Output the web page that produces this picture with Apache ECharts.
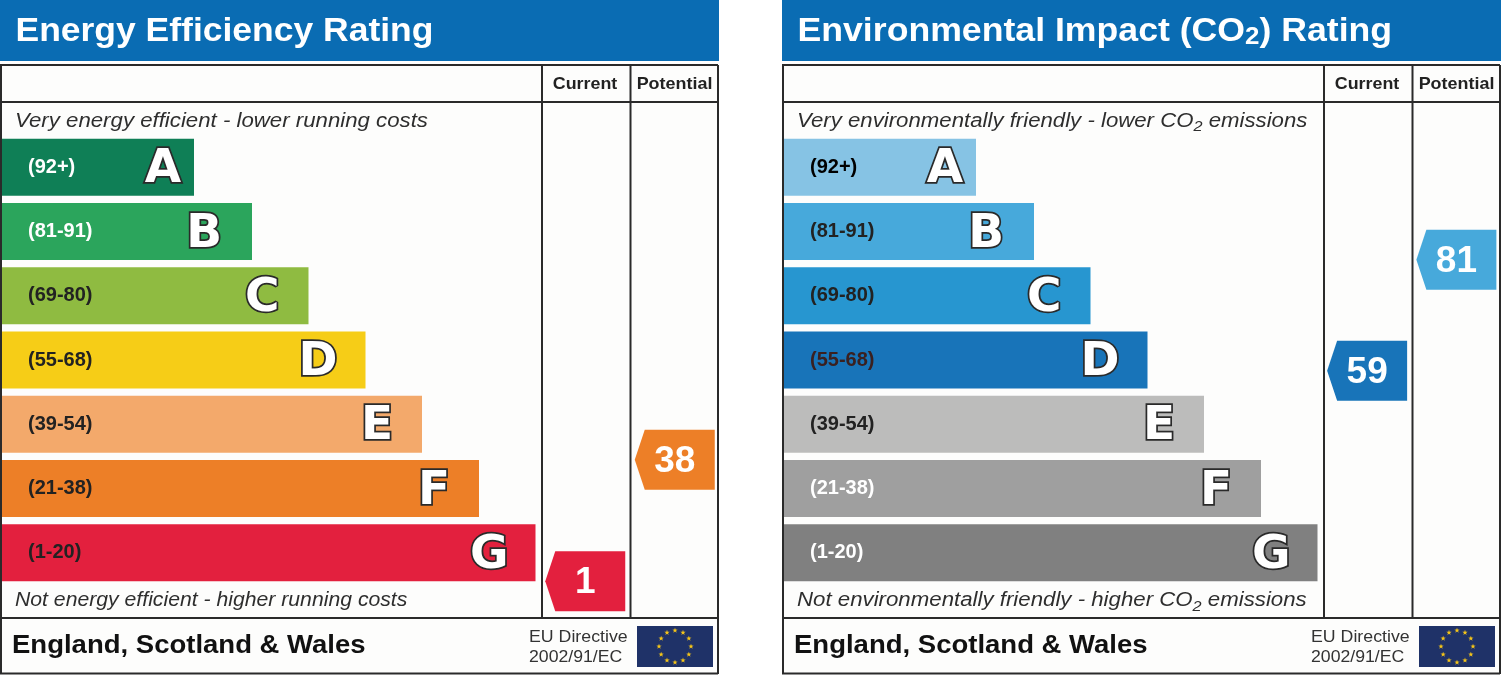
<!DOCTYPE html>
<html><head><meta charset="utf-8">
<style>html,body{margin:0;padding:0;background:#fff}#c{width:1501px;height:675px}</style>
<script src="https://cdn.jsdelivr.net/npm/echarts@6/dist/echarts.min.js"></script></head>
<body><div id="c"></div>
<script>
const bandLetters = ['A','B','C','D','E','F','G'];
const bandRanges = ['(92+)','(81-91)','(69-80)','(55-68)','(39-54)','(21-38)','(1-20)'];
const bandLow = [92,81,69,55,39,21,1];
const bandHigh = [100,91,80,68,54,38,20];
const barLengths = [192,250,306.5,363.5,420,477,533.5];
const letterInsets = [13,30,29,28,29,29,27];
const energyColors = ['#0f7f56','#2ba55c','#8fbb41','#f6cd17','#f3a96b','#ed7f27','#e3203e'];
const co2Colors = ['#86c3e4','#47a9db','#2796d0','#1874b9','#bcbcbb','#9f9f9f','#808080'];
const energyLabelColors = ['#fff','#fff','#222','#222','#222','#222','#222'];
const co2LabelColors = ['#000','#222','#222','#3a2020','#222','#fff','#fff'];
const energyScores = [1,38];
const co2Scores = [59,81];
const columnNames = ['Current','Potential'];

function bandOf(s){return bandLow.findIndex((l,i)=>s>=l&&s<=bandHigh[i]);}
function rowPos(s){const b=bandOf(s);return b+0.05+0.89*(bandHigh[b]-s)/(bandHigh[b]-bandLow[b]);}

const grids=[],xAxes=[],yAxes=[],series=[],graphics=[];
const frame='#2a2a2a', ink='#2e2e2e';
function line(x1,y1,x2,y2,w){graphics.push({type:'line',z:1,shape:{x1,y1,x2,y2},style:{stroke:frame,lineWidth:w||2}});}
function text(x,y,t,font,fill,scale,align){graphics.push({type:'text',z:3,x,y,scaleX:scale||1,originX:0,style:{text:t,font,fill,textAlign:align||'left',textVerticalAlign:'middle'}});}
function subText(x,y,t,font,subFont,fill,scale,subPad){graphics.push({type:'text',z:3,x,y,scaleX:scale||1,originX:0,
  style:{text:t,font,fill,textVerticalAlign:'middle',rich:{s:{font:subFont,fill,verticalAlign:'bottom',padding:[subPad,0,0,0]}}}});}

function panel(ox,titleParts,titleScale,topText,topScale,bottomText,bottomScale,colors,labelColors,scores){
  const gi=grids.length;
  graphics.push({type:'rect',z:1,shape:{x:ox,y:0,width:719,height:61},style:{fill:'#0a6cb3'}});
  graphics.push({type:'rect',z:0,shape:{x:ox,y:65,width:718,height:608},style:{fill:'#fdfdfc'}});
  subText(ox+15.5,32,titleParts,'bold 33px "Liberation Sans"','bold 24px "Liberation Sans"','#fff',titleScale,11);
  line(ox,65,ox+718,65); line(ox,102,ox+718,102); line(ox,618,ox+718,618); line(ox,673.5,ox+718,673.5);
  line(ox+1,65,ox+1,674); line(ox+718,65,ox+718,674);
  line(ox+542,65,ox+542,618); line(ox+630.5,65,ox+630.5,618);
  text(ox+585,84,columnNames[0],'bold 17px "Liberation Sans"','#222',1.05,'center');
  text(ox+674.5,84,columnNames[1],'bold 17px "Liberation Sans"','#222',1.055,'center');
  subText(ox+15,121,topText,'italic 20.5px "Liberation Sans"','italic 15px "Liberation Sans"',ink,topScale,12);
  subText(ox+15,600.5,bottomText,'italic 20.5px "Liberation Sans"','italic 15px "Liberation Sans"',ink,bottomScale,12);
  text(ox+12,646,'England, Scotland & Wales','bold 26.5px "Liberation Sans"','#111',1.038);
  text(ox+529,637,'EU Directive','16.5px "Liberation Sans"','#333',1.076);
  text(ox+529,657.5,'2002/91/EC','16.5px "Liberation Sans"','#333',1.07);
  graphics.push({type:'rect',z:2,shape:{x:ox+637,y:626,width:76,height:41},style:{fill:'#1f3268'}});
  for(let i=0;i<12;i++){
    const a=i*Math.PI/6, cx=ox+675+16*Math.sin(a), cy=646.5-16*Math.cos(a), pts=[];
    for(let k=0;k<10;k++){const r=k%2?1.1:2.8,b=k*Math.PI/5;pts.push([cx+r*Math.sin(b),cy-r*Math.cos(b)]);}
    graphics.push({type:'polygon',z:3,shape:{points:pts},style:{fill:'#f5c518'}});
  }
  grids.push({left:ox+2,top:135,width:540,height:450},{left:ox+540.5,top:135,width:179,height:450});
  xAxes.push({gridIndex:gi,type:'value',min:0,max:540,show:false},
             {gridIndex:gi+1,type:'category',data:columnNames,show:false});
  yAxes.push({gridIndex:gi,type:'category',inverse:true,data:bandRanges,z:5,
      axisLine:{show:false},axisTick:{show:false},splitLine:{show:false},
      axisLabel:{inside:true,margin:26,fontFamily:'Liberation Sans',fontWeight:'bold',fontSize:20,
        color:(v,i)=>labelColors[i]}},
    {gridIndex:gi+1,type:'value',inverse:true,min:0,max:7,show:false,splitLine:{show:false}});
  series.push({type:'bar',xAxisIndex:gi,yAxisIndex:gi,barWidth:57,silent:true,
    data:barLengths.map((v,i)=>({value:v,itemStyle:{color:colors[i]},
      label:{show:true,position:'insideRight',distance:letterInsets[i],offset:[0,3],formatter:bandLetters[i],
        color:'#fff',fontFamily:'DejaVu Sans',fontWeight:'bold',fontSize:47,
        textBorderColor:'#2a2a2a',textBorderWidth:3.5}}))});
  series.push({type:'scatter',xAxisIndex:gi+1,yAxisIndex:gi+1,silent:true,
    symbol:'path://M10 0H80V60H10L0 30Z',symbolSize:[80,60],
    data:scores.map((s,i)=>({value:[i,rowPos(s)],itemStyle:{color:colors[bandOf(s)],opacity:1},
      label:{show:true,position:'inside',offset:[0,2],formatter:String(s),color:'#fff',fontFamily:'Liberation Sans',fontWeight:'bold',fontSize:37}}))});
}
panel(0,'Energy Efficiency Rating',1.075,'Very energy efficient - lower running costs',1.084,'Not energy efficient - higher running costs',1.034,energyColors,energyLabelColors,energyScores);
panel(782,'Environmental Impact (CO{s|2}) Rating',1.08,'Very environmentally friendly - lower CO{s|2} emissions',1.083,'Not environmentally friendly - higher CO{s|2} emissions',1.085,co2Colors,co2LabelColors,co2Scores);

const chart=echarts.init(document.getElementById('c'));
chart.setOption({animation:false,backgroundColor:'#fff',graphic:{elements:graphics},grid:grids,xAxis:xAxes,yAxis:yAxes,series});
</script></body></html>
